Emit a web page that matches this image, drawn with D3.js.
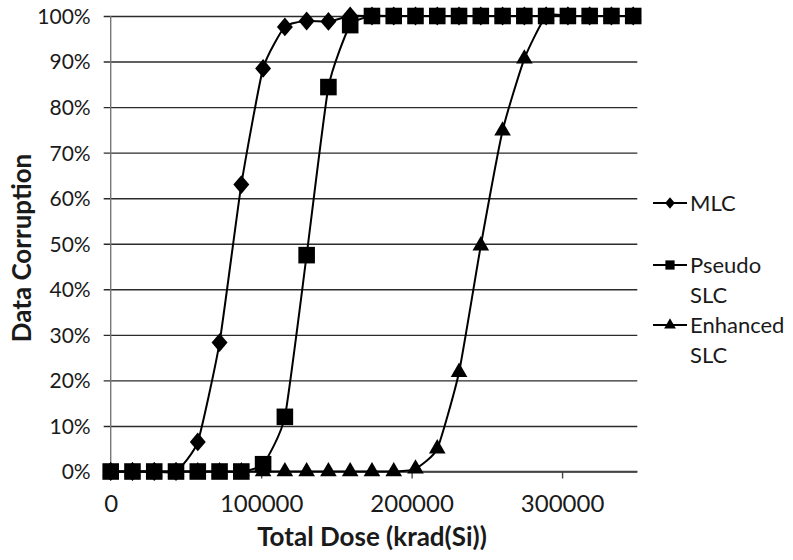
<!DOCTYPE html>
<html>
<head>
<meta charset="utf-8">
<script src="https://cdn.jsdelivr.net/npm/d3@7"></script>
<style>
  body { margin: 0; background: #fff; }
  svg text { font-family: Lato, "Open Sans", sans-serif; fill: #1a1a1a; }
</style>
</head>
<body>
<div id="chart"></div>
<script>
// total dose values (krad(Si))
var doses = [0, 14470, 28940, 43410, 57880, 72350, 86820, 101290, 115760, 130230,
  144700, 159170, 173640, 188110, 202580, 217050, 231520, 245990, 260460, 274930,
  289400, 303870, 318340, 332810, 347280];

// data corruption, percent
var mlc = [0, 0, 0, 0, 6.5, 28.3, 63, 88.5, 97.6, 98.9, 98.8, 100, 100, 100, 100,
  100, 100, 100, 100, 100, 100, 100, 100, 100, 100];
var pseudoSlc = [0, 0, 0, 0, 0, 0, 0, 1.6, 12, 47.5, 84.4, 98, 100, 100, 100,
  100, 100, 100, 100, 100, 100, 100, 100, 100, 100];
var enhancedSlc = [0, 0, 0, 0, 0, 0, 0, 0, 0, 0, 0, 0, 0, 0, 0.6,
  5, 21.8, 49.6, 74.8, 90.6, 100, 100, 100, 100, 100];

var seriesNames = ["MLC", "Pseudo SLC", "Enhanced SLC"];
var xTicks = [0, 100000, 200000, 300000];
var yTicks = [0, 10, 20, 30, 40, 50, 60, 70, 80, 90, 100];

var width = 793, height = 560;
var margin = {top: 16, left: 110.7, right: 155.7, bottom: 88.5};
var plotW = width - margin.left - margin.right,
    plotH = height - margin.top - margin.bottom;

// excel-like diamond, a bit taller than wide
var diamond = {
  draw: function(ctx, size) {
    var h = Math.sqrt(size / 1.7);
    var w = h * 0.85;
    ctx.moveTo(0, -h);
    ctx.lineTo(w, 0);
    ctx.lineTo(0, h);
    ctx.lineTo(-w, 0);
    ctx.closePath();
  }
};

var svg = d3.select("#chart").append("svg")
  .attr("width", width)
  .attr("height", height);

var g = svg.append("g")
  .attr("transform", "translate(" + margin.left + "," + margin.top + ")");

var x = d3.scaleLinear().domain([0, 350000]).range([0, plotW]);
var y = d3.scaleLinear().domain([0, 100]).range([plotH, 0]);

// horizontal gridlines + y tick labels
var yAxis = g.append("g")
  .call(d3.axisLeft(y).tickValues(yTicks).tickSize(-plotW).tickPadding(20)
    .tickFormat(function(d) { return d + "%"; }));
yAxis.select(".domain").remove();
yAxis.selectAll(".tick line")
  .attr("x1", -7)
  .attr("stroke", "#2b2b2b")
  .attr("stroke-width", 1.4);
yAxis.selectAll(".tick text")
  .attr("font-size", 21)
  .attr("dy", "0.35em");

// vertical axis line
g.append("line")
  .attr("x1", 0).attr("x2", 0)
  .attr("y1", 0).attr("y2", plotH)
  .attr("stroke", "#777")
  .attr("stroke-width", 1.4);

// x axis
var xAxis = g.append("g")
  .attr("transform", "translate(0," + plotH + ")")
  .call(d3.axisBottom(x).tickValues(xTicks).tickSize(7).tickPadding(16)
    .tickFormat(d3.format("d")));
xAxis.select(".domain")
  .attr("d", "M0,0H" + plotW)
  .attr("stroke", "#444")
  .attr("stroke-width", 1.4);
xAxis.selectAll(".tick line").attr("stroke", "#444").attr("stroke-width", 1.4);
xAxis.selectAll(".tick text").attr("font-size", 24);

// axis titles
svg.append("text")
  .attr("x", margin.left + x(175000) - 2)
  .attr("y", 546)
  .attr("text-anchor", "middle")
  .attr("font-size", 26)
  .attr("font-weight", "bold")
  .text("Total Dose (krad(Si))");

svg.append("text")
  .attr("transform", "translate(31,248) rotate(-90)")
  .attr("text-anchor", "middle")
  .attr("font-size", 26)
  .attr("font-weight", "bold")
  .text("Data Corruption");

var line = d3.line()
  .x(function(d) { return x(d[0]); })
  .y(function(d) { return y(d[1]); })
  .curve(d3.curveCardinal.tension(0.5));

var series = [
  {name: seriesNames[0], values: mlc, symbol: diamond, size: 150},
  {name: seriesNames[2], values: enhancedSlc, symbol: d3.symbolTriangle, size: 120},
  {name: seriesNames[1], values: pseudoSlc, symbol: d3.symbolSquare, size: 275}
];

series.forEach(function(s) {
  var pts = doses.map(function(d, i) { return [d, s.values[i]]; });
  g.append("path")
    .datum(pts)
    .attr("fill", "none")
    .attr("stroke", "#000")
    .attr("stroke-width", 2)
    .attr("d", line);
  g.selectAll(null)
    .data(pts)
    .enter().append("path")
    .attr("transform", function(d) {
      return "translate(" + x(d[0]) + "," + y(d[1]) + ")";
    })
    .attr("d", d3.symbol().type(s.symbol).size(s.size))
    .attr("fill", "#000");
});

// legend
var legendItems = [
  {lines: ["MLC"], symbol: diamond, size: 55, y: 203},
  {lines: ["Pseudo", "SLC"], symbol: d3.symbolSquare, size: 85, y: 265},
  {lines: ["Enhanced", "SLC"], symbol: d3.symbolTriangle, size: 60, y: 325}
];
var legend = svg.append("g");
legendItems.forEach(function(it) {
  var lg = legend.append("g").attr("transform", "translate(653," + it.y + ")");
  lg.append("line")
    .attr("x1", 0).attr("x2", 34)
    .attr("stroke", "#000").attr("stroke-width", 2);
  lg.append("path")
    .attr("transform", "translate(17,0)")
    .attr("d", d3.symbol().type(it.symbol).size(it.size))
    .attr("fill", "#000");
  it.lines.forEach(function(t, k) {
    lg.append("text")
      .attr("x", 37)
      .attr("y", k * 30)
      .attr("dy", "0.36em")
      .attr("font-size", 22)
      .text(t);
  });
});
</script>
</body>
</html>
